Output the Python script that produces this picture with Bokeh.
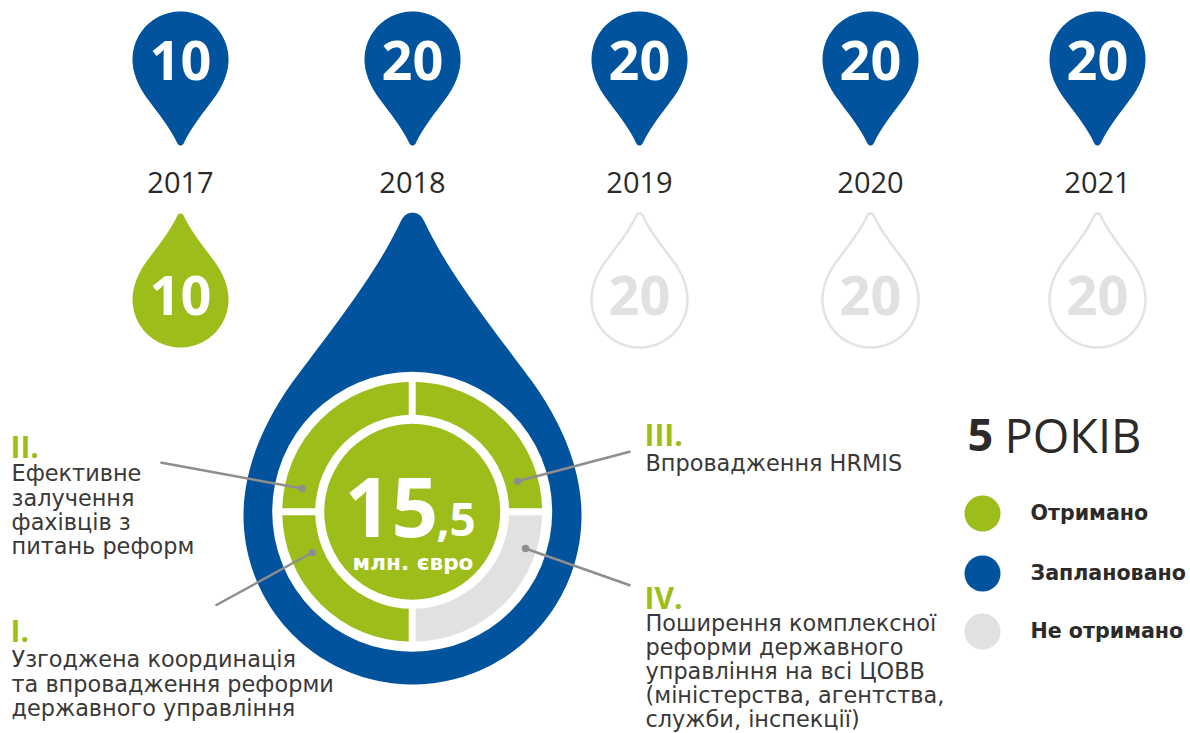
import numpy as np
from bokeh.plotting import figure
from bokeh.core.properties import value
from bokeh.embed import file_html
from bokeh.resources import INLINE

# ---- data ----
years = ["2017", "2018", "2019", "2020", "2021"]
planned = [10, 20, 20, 20, 20]
received_labels = ["10", None, None, None, None]
not_received_labels = [None, None, "20", "20", "20"]
total_whole = "15"
total_frac = ",5"
total_unit = "млн. євро"
component_shares = [25, 25, 25, 25]
component_status = ["got", "got", "got", "not"]
legend_labels = ["Отримано", "Заплановано", "Не отримано"]
title_num = "5"
title_word = "РОКІВ"
roman = ["II.", "I.", "III.", "IV."]
blocks = [
    ["Ефективне", "залучення", "фахівців з", "питань реформ"],
    ["Узгоджена координація", "та впровадження реформи", "державного управління"],
    ["Впровадження HRMIS"],
    ["Поширення комплексної", "реформи державного", "управління на всі ЦОВВ", "(міністерства, агентства,", "служби, інспекції)"],
]

# ---- layout / style ----
BLUE, GREEN, GREY, DARK, LINE = "#01539D", "#9DBE1A", "#E2E0E1", "#2B2A29", "#8F8D8D"
W, H = 1190, 733
col_x = [181, 413, 640, 871, 1098]
PIN_Y, DROP_Y, R = 60, 300, 48
BIG = (413, 516, 169)
C = (412.7, 512.3)
BODY_FONT, NUM_FONT = "DejaVu Sans", "Open Sans"

p = figure(width=W, height=H, x_range=(1, W + 1), y_range=(H + 1, 1),
           output_backend="svg", toolbar_location=None, min_border=0,
           outline_line_color=None, background_fill_color="white", border_fill_color="white")
p.axis.visible = False
p.grid.visible = False


def bez(a, b, c, d, n=24):
    t = np.linspace(0, 1, n)[:, None]
    a, b, c, d = map(np.array, (a, b, c, d))
    return (1-t)**3*a + 3*(1-t)**2*t*b + 3*(1-t)*t**2*c + t**3*d


def drop(cx, cy, r, tip_up=True):
    ang = np.linspace(0, np.pi, 90)
    arc = np.c_[np.cos(ang), np.sin(ang)]
    left = np.vstack([
        bez((-1, 0), (-1, -.30), (-.86, -.58), (-.71, -.79)),
        bez((-.71, -.79), (-.48, -1.10), (-.22, -1.42), (-.07, -1.74)),
    ])
    tip = bez((-.07, -1.74), (-.04, -1.81), (.04, -1.81), (.07, -1.74), 10)
    right = left[::-1] * [-1, 1]
    pts = np.vstack([arc, left, tip, right])
    s = 1 if tip_up else -1
    return list(cx + r*pts[:, 0]), list(cy + s*r*pts[:, 1])


def text(x, y, t, font=BODY_FONT, size=21, color=DARK, style="normal", align="left"):
    # the page's text baseline sits a fixed share of the font size lower than asked
    p.text(x=[x], y=[y - 0.36*size], text=[t], text_font=value(font), text_font_size=f"{size}px",
           text_color=color, text_font_style=style, text_align=align, text_baseline="alphabetic")


# top pins
for x, v, yr in zip(col_x, planned, years):
    xs, ys = drop(x, PIN_Y, R, tip_up=False)
    p.patch(xs, ys, fill_color=BLUE, line_color=None)
    text(x, 80, str(v), NUM_FONT, 54, "white", "bold", "center")
    text(x, 193, yr, NUM_FONT, 29, DARK, "normal", "center")

# drops
for x, got, notgot in zip(col_x, received_labels, not_received_labels):
    if got:
        xs, ys = drop(x, DROP_Y, R)
        p.patch(xs, ys, fill_color=GREEN, line_color=None)
        text(x, 315, got, NUM_FONT, 54, "white", "bold", "center")
    if notgot:
        xs, ys = drop(x, DROP_Y, R)
        p.patch(xs, ys, fill_color=None, line_color="#E4E3E3", line_width=2.5)
        text(x, 315, notgot, NUM_FONT, 54, GREY, "bold", "center")

# big drop
xs, ys = drop(*BIG)
p.patch(xs, ys, fill_color=BLUE, line_color=None)
p.circle(x=[C[0]], y=[C[1]], radius=140, fill_color="white", line_color=None)
edges = np.cumsum([0] + component_shares) / sum(component_shares) * 2 * np.pi
p.annular_wedge(x=C[0], y=C[1], inner_radius=90, outer_radius=130,
                start_angle=list(edges[:-1]), end_angle=list(edges[1:]),
                fill_color=[GREEN if s == "got" else GREY for s in component_status], line_color=None)
p.multi_line([[C[0], C[0]], [C[0]-135, C[0]+135]], [[C[1]-135, C[1]+135], [C[1], C[1]]],
             line_color="white", line_width=7)
p.circle(x=[C[0]], y=[C[1]], radius=97, fill_color="white", line_color=None)
p.circle(x=[C[0]], y=[C[1]], radius=88, fill_color=GREEN, line_color=None)
text(392, 537, total_whole, NUM_FONT, 82, "white", "bold", "center")
text(437, 537, total_frac, NUM_FONT, 46, "white", "bold", "left")
text(413.5, 571, total_unit, BODY_FONT, 21.6, "white", "bold", "center")

# leader lines
lx0 = [161, 216, 631, 631]
ly0 = [463, 606, 452, 586]
lx1 = [302.7, 312.7, 518, 526]
ly1 = [489, 553, 481.7, 549]
p.segment(lx0, ly0, lx1, ly1, line_color=LINE, line_width=2.5)
p.scatter(lx1, ly1, size=7.5, fill_color=LINE, line_color=None)

# annotation blocks
rom_x = [11, 11, 645, 645]
rom_y = [458, 642, 446, 609]
start_y = [482, 668, 472, 632]
line_gap = [24.3, 24.3, 24.3, 23.9]
for r, b, x, y, sy, gap in zip(roman, blocks, rom_x, rom_y, start_y, line_gap):
    text(x, y, r, NUM_FONT, 30, GREEN, "bold")
    for i, line in enumerate(b):
        text(x + 1, sy + i*gap, line, BODY_FONT, 22.4, "#3A3938")

# title + legend
text(968, 452, title_num, NUM_FONT, 45, DARK, "bold")
text(1005, 452, title_word, NUM_FONT, 47, DARK)
leg_y = [514, 574, 632]
for lab, c, y in zip(legend_labels, [GREEN, BLUE, GREY], leg_y):
    p.circle(x=[983], y=[y], radius=18, fill_color=c, line_color=None)
    text(1031, y + 7, lab, BODY_FONT, 20.6, DARK, "bold")

open("out.html", "w").write(file_html(p, INLINE))
